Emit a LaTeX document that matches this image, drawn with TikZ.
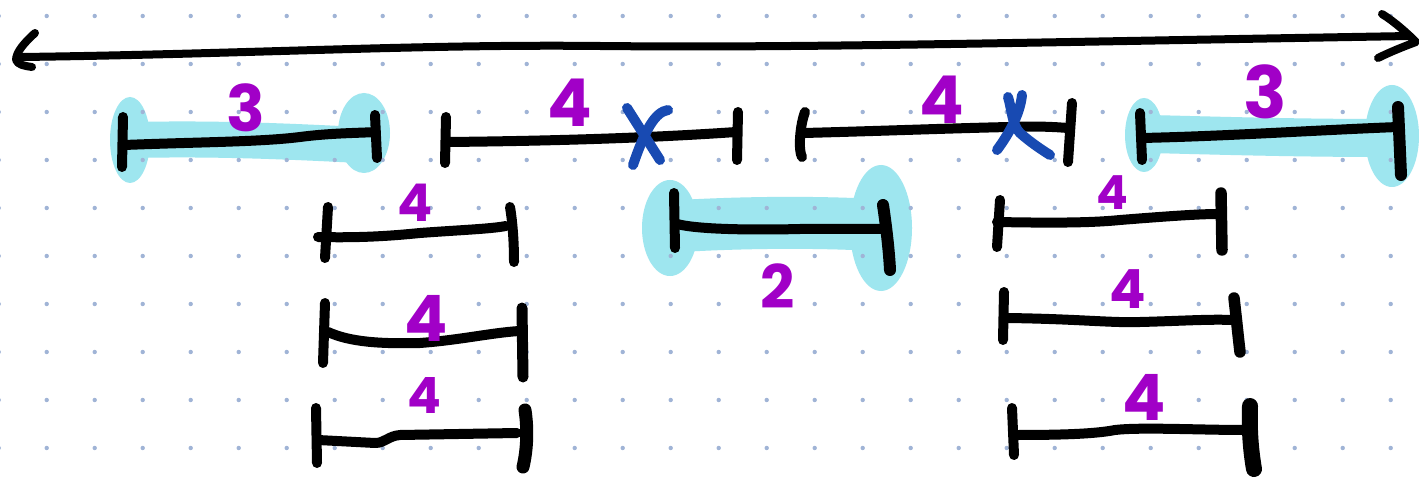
\documentclass[tikz,border=0pt]{standalone}
\usepackage{fontspec}
\newfontfamily\labfont{Poppins}
\definecolor{lab}{RGB}{161,0,199}
\definecolor{hlc}{RGB}{158,230,239}
\definecolor{xblue}{RGB}{24,74,178}
\definecolor{dotc}{RGB}{160,180,214}
\tikzset{
  segline/.style={line width=10pt, line cap=round, line join=round},
  tickline/.style={line width=10pt, line cap=round},
  arrowline/.style={line width=8pt, line cap=round, line join=round},
  hlfill/.style={fill=hlc, draw=none},
  hlband/.style={draw=hlc, line cap=round},
  crossline/.style={draw=xblue, line width=10pt, line cap=round},
  lbl/.style={text=lab, inner sep=0pt, anchor=center},
}
\newcommand{\lsz}[1]{\labfont\bfseries\fontsize{#1}{#1}\selectfont}
\begin{document}
\begin{tikzpicture}[x=1pt, y=-1pt]
\useasboundingbox (0,0) rectangle (1419,481);
\fill[white] (0,0) rectangle (1419,481);

% ---------- highlights ----------
% A
\fill[hlfill] (130,140) ellipse [x radius=20, y radius=43];
\fill[hlfill] (364,133) ellipse [x radius=26, y radius=40];
\draw[hlband, line width=36pt] (135,140) .. controls (220,138) and (300,142) .. (360,145);
% D
\fill[hlfill] (1144,135) ellipse [x radius=19, y radius=37];
\fill[hlfill] (1392,136) ellipse [x radius=27, y radius=51];
\draw[hlband, line width=38pt] (1150,134) .. controls (1230,136) and (1300,138) .. (1385,138);
% H
\fill[hlfill] (670,228) ellipse [x radius=28, y radius=48];
\fill[hlfill] (881,228) ellipse [x radius=31, y radius=63];
\draw[hlband, line width=52pt] (680,226) .. controls (750,222) and (820,222) .. (875,225);

% ---------- dot grid ----------
\foreach \i in {0,...,29}{
  \foreach \j in {0,...,9}{
    \fill[dotc] ({-1.3+48*\i},{16+48*\j}) circle (2.2pt);
  }
}

% ---------- top double arrow ----------
\coordinate (tl) at (22,57);
\coordinate (tr) at (1410,36);
\draw[arrowline] (tl) .. controls (250,54) and (420,44) .. (600,46)
  .. controls (800,48) and (1000,43) .. (tr);
\draw[arrowline] (35,33) .. controls (25,42) and (16,52) .. (16,60) .. controls (18,65) and (25,66) .. (32,67);
\draw[arrowline] (1382,14) .. controls (1395,22) and (1408,34) .. (1416,42) .. controls (1405,46) and (1390,52) .. (1378,58);

% ---------- row 1 ----------
% A
\coordinate (aL) at (124,145); \coordinate (aR) at (376,132);
\draw[tickline] (123,117) -- (122,167);
\draw[tickline] (375,115) -- (377,158);
\draw[segline] (aL) .. controls (200,142) and (260,142) .. (300,137) .. controls (330,133) and (360,133) .. (aR);
\node[lbl, font=\lsz{64}] (la) at (246,108) {3};
% B
\coordinate (bL) at (447,142); \coordinate (bR) at (736,132);
\draw[tickline] (446,117) -- (445,163);
\draw[tickline] (738,112) -- (737,160);
\draw[segline] (bL) .. controls (550,141) and (650,138) .. (bR);
\node[lbl, font=\lsz{66}] (lb) at (570,103) {4};
\draw[crossline] (627,108) -- (660,160);
\draw[crossline] (668,110) .. controls (655,112) and (645,130) .. (633,165);
% C
\coordinate (cL) at (804,133); \coordinate (cR) at (1068,128);
\draw[tickline] (805,112) .. controls (800,125) and (798,150) .. (802,157);
\draw[tickline] (1072,103) -- (1068,162);
\draw[segline] (cL) .. controls (880,131) and (960,128) .. (1010,127) .. controls (1040,126) and (1055,127) .. (cR);
\node[lbl, font=\lsz{66}] (lc) at (942,100) {4};
\draw[crossline] (1008,97) .. controls (1012,110) and (1012,125) .. (1020,133) .. controls (1030,142) and (1042,150) .. (1050,155);
\draw[crossline] (1022,95) .. controls (1020,115) and (1008,135) .. (997,150);
% D
\coordinate (dL) at (1142,138); \coordinate (dR) at (1398,127);
\draw[tickline] (1140,113) -- (1142,160);
\draw[tickline, line width=12pt] (1398,107) -- (1401,175);
\draw[segline] (dL) .. controls (1230,136) and (1320,130) .. (dR);
\node[lbl, font=\lsz{72}] (ld) at (1265,92) {3};

% ---------- left column ----------
% E
\coordinate (eL) at (318,237); \coordinate (eR) at (506,226);
\draw[tickline] (328,207) -- (325,258);
\draw[tickline] (510,207) .. controls (513,225) and (514,245) .. (514,262);
\draw[segline] (eL) .. controls (360,238) and (390,236) .. (420,233) .. controls (460,230) and (490,229) .. (eR);
\node[lbl, font=\lsz{52}] (le) at (415,203) {4};
% F
\coordinate (fL) at (328,332); \coordinate (fR) at (519,331);
\draw[tickline] (325,303) -- (323,363);
\draw[tickline, line width=11pt] (522,308) -- (523,377);
\draw[segline] (fL) .. controls (350,342) and (380,344) .. (420,343) .. controls (460,340) and (490,333) .. (fR);
\node[lbl, font=\lsz{64}] (lf) at (426,318) {4};
% G
\coordinate (gL) at (318,440); \coordinate (gR) at (517,433);
\draw[tickline] (316,408) -- (317,463);
\draw[tickline, line width=13pt] (525,410) .. controls (528,430) and (527,450) .. (523,467);
\draw[segline] (gL) -- (375,443) .. controls (385,443) and (388,436) .. (400,435) -- (gR);
\node[lbl, font=\lsz{50}] (lg) at (424,395) {4};

% ---------- centre ----------
% H
\coordinate (hL) at (677,224); \coordinate (hR) at (882,229);
\draw[tickline] (674,193) -- (675,248);
\draw[tickline, line width=12pt] (883,205) .. controls (886,225) and (889,250) .. (890,270);
\draw[segline] (hL) .. controls (700,230) and (760,230) .. (800,229) -- (hR);
\node[lbl, font=\lsz{60}] (lh) at (778,286) {2};

% ---------- right column ----------
% I
\coordinate (iL) at (997,222); \coordinate (iR) at (1218,214);
\draw[tickline] (1000,200) -- (997,247);
\draw[tickline, line width=11.5pt] (1221,193) -- (1222,250);
\draw[segline] (iL) .. controls (1050,223) and (1090,223) .. (1120,220) .. controls (1170,216) and (1200,214) .. (iR);
\node[lbl, font=\lsz{47}] (li) at (1112,193) {4};
% J
\coordinate (jL) at (1007,318); \coordinate (jR) at (1232,320);
\draw[tickline] (1004,292) -- (1003,340);
\draw[tickline, line width=11.5pt] (1234,298) .. controls (1236,315) and (1238,335) .. (1240,352);
\draw[segline] (jL) .. controls (1080,319) and (1110,323) .. (1140,322) .. controls (1180,321) and (1210,319) .. (jR);
\node[lbl, font=\lsz{54}] (lj) at (1128,289) {4};
% K
\coordinate (kL) at (1016,435); \coordinate (kR) at (1245,430);
\draw[tickline] (1012,408) -- (1014,455);
\draw[tickline, line width=16pt] (1250,406) .. controls (1249,430) and (1251,452) .. (1254,469);
\draw[segline] (kL) .. controls (1060,435) and (1095,434) .. (1115,430) .. controls (1140,427) and (1200,430) .. (kR);
\node[lbl, font=\lsz{64}] (lk) at (1144,397) {4};
\end{tikzpicture}
\end{document}
